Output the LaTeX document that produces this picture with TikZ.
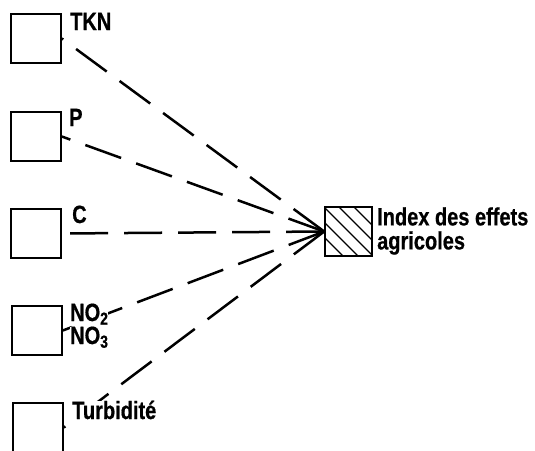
\documentclass[tikz,border=0pt]{standalone}
\usepackage{fontspec}
\setmainfont{Liberation Sans}[FakeStretch=0.8, FakeBold=0.6]
\usetikzlibrary{positioning}

\begin{document}
\begin{tikzpicture}[
    x=1pt, y=-1pt,
    src/.style={draw, line width=1.6pt, minimum width=50pt, minimum height=49pt, inner sep=0pt},
    idxbox/.style={draw, line width=1.6pt, minimum width=47pt, minimum height=49pt, inner sep=0pt,
        path picture={\foreach \c in {-30,-15,0,15,30}
            \draw[line width=1.4pt, shift={(path picture bounding box.center)}] (\c-30,-30) -- (\c+30,30);}},
    link/.style={line width=2.5pt, dash pattern=on 38pt off 16pt},
    tag/.style={font=\fontsize{25}{24}\selectfont\bfseries, inner sep=0pt, anchor=base west, fill=white}
]
\useasboundingbox (0,0) rectangle (535,450);

% Source boxes
\node[src] (tkn) at (36,38.5) {};
\node[src] (p) at (36,136.5) {};
\node[src] (c) at (36,233.5) {};
\node[src] (no) at (37,330.5) {};
\node[src] (turb) at (38,427.5) {};

% Target
\node[idxbox] (idx) at (348.5,231.5) {};

% Dashed links, all meeting at the index
\draw[link] (idx.west) -- (tkn.east);
\draw[link] (idx.west) -- (p.east);
\draw[link] (idx.west) -- (c.east);
\draw[link] (idx.west) -- (no.east);
\draw[link] (idx.west) -- (turb.east);

% Labels
\node[tag] (tknlbl) at (70,30) {TKN};
\node[tag] (plbl) at (69,126) {P};
\node[tag] (clbl) at (72,223) {C};
\node[tag] (no2lbl) at (70,321) {NO\textsubscript{2}};
\node[tag] (no3lbl) at (70,344) {NO\textsubscript{3}};
\node[tag] (turblbl) at (72,419) {Turbidité};
\node[tag, anchor=west, align=left, fill=none] (idxlbl) at (377,231) {Index des effets\\agricoles};

\end{tikzpicture}
\end{document}
